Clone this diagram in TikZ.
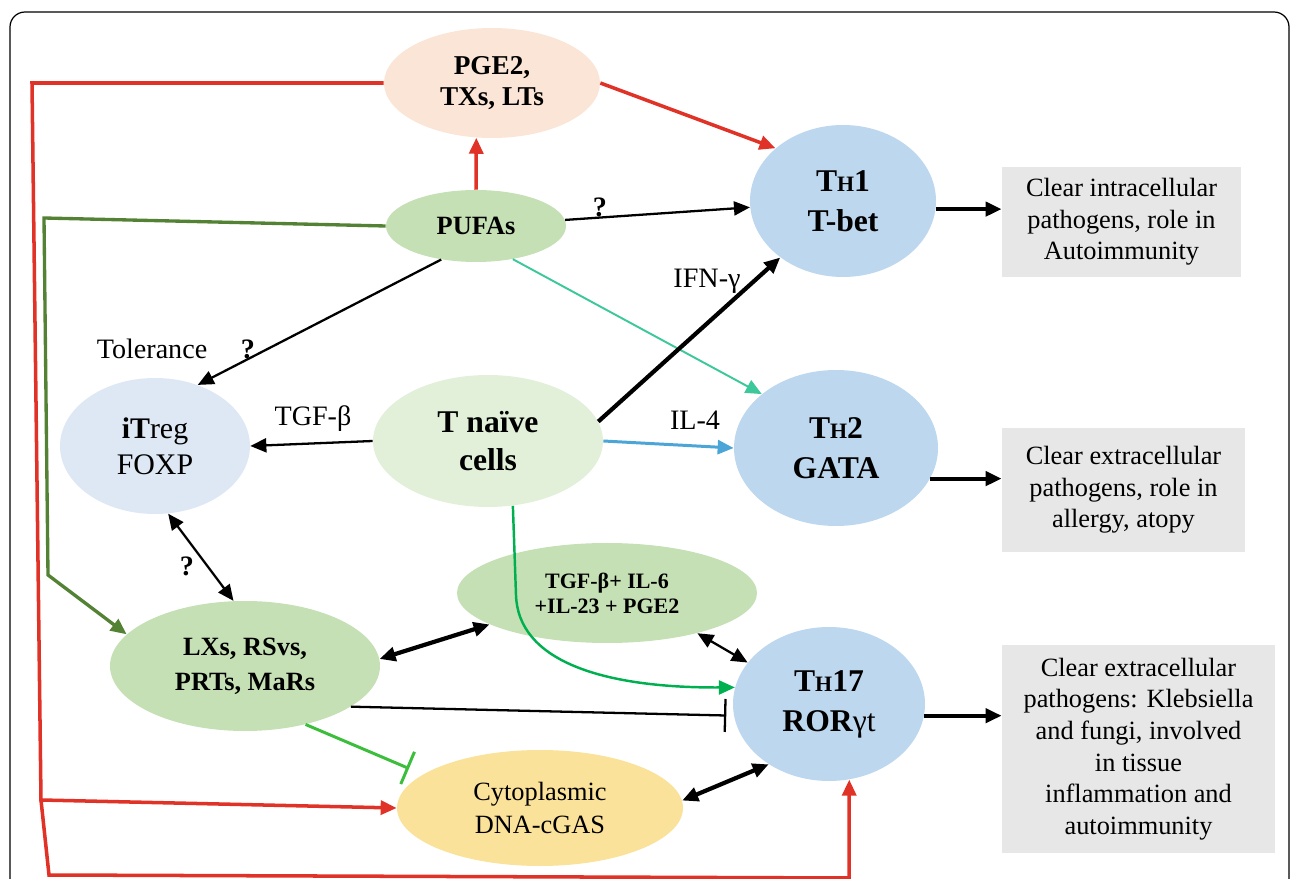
\documentclass[tikz,border=0pt]{standalone}
\usepackage{fontspec}
\setmainfont{Liberation Serif}
\usetikzlibrary{shapes.geometric,arrows.meta}
\definecolor{peach}{RGB}{251,229,214}
\definecolor{leaf}{RGB}{197,224,180}
\definecolor{paleleaf}{RGB}{226,240,217}
\definecolor{sky}{RGB}{189,215,238}
\definecolor{palesky}{RGB}{222,232,244}
\definecolor{sand}{RGB}{251,226,154}
\definecolor{boxgray}{RGB}{231,231,231}
\definecolor{redline}{RGB}{224,50,38}
\definecolor{moss}{RGB}{84,130,53}
\definecolor{mint}{RGB}{60,200,155}
\definecolor{ilblue}{RGB}{75,165,215}
\definecolor{curvegreen}{RGB}{0,176,80}
\definecolor{bargreen}{RGB}{60,190,60}
\newcommand{\hsc}{{\fontsize{12.5}{12.5}\selectfont H}}

\begin{document}
\begin{tikzpicture}[x=0.2mm,y=-0.2mm,
    cell/.style={ellipse, inner sep=0pt, align=center},
    outbox/.style={fill=boxgray, inner sep=0pt, align=center, font=\fontsize{15}{18}\selectfont},
    lbl/.style={font=\fontsize{16}{18}\selectfont},
    qm/.style={font=\bfseries\fontsize{16}{18}\selectfont},
    >={Triangle[length=3.2mm,width=2.8mm]},
    link/.style={->, line width=1.3pt},
    strong/.style={->, line width=2.4pt},
    both/.style={<->, line width=2.4pt},
    redarrow/.style={->, redline, line width=2pt},
    blocker/.style={-{Bar[width=6.6mm]}, line width=1.3pt}]

    \clip (0,0) rectangle (1290,879);
    \draw[line width=0.7pt, rounded corners=3mm] (10,12) rectangle (1289,920);

    % cells and mediators
    \node[cell, fill=peach, minimum width=43.2mm, minimum height=22mm,
          font=\bfseries\fontsize{15.5}{17.6}\selectfont] (pge) at (492,83) {PGE2,\\TXs, LTs};
    \node[cell, fill=leaf, minimum width=36mm, minimum height=14.4mm,
          font=\bfseries\fontsize{15}{17}\selectfont] (pufa) at (476,226) {PUFAs};
    \node[cell, fill=sky, minimum width=37.2mm, minimum height=30.4mm,
          font=\bfseries\fontsize{18}{22.7}\selectfont] (th1) at (843,201) {T\hsc1\\T-bet};
    \node[cell, fill=palesky, minimum width=38mm, minimum height=27.2mm,
          font=\fontsize{17}{20.5}\selectfont] (itreg) at (155,446) {{\bfseries iT}reg\\FOXP};
    \node[cell, fill=paleleaf, minimum width=46mm, minimum height=26.4mm,
          font=\bfseries\fontsize{18}{21.5}\selectfont] (tn) at (488,441) {T naïve\\cells};
    \node[cell, fill=sky, minimum width=40.8mm, minimum height=31.2mm,
          font=\bfseries\fontsize{18}{22.7}\selectfont] (th2) at (836,448) {T\hsc2\\GATA};
    \node[cell, fill=leaf, minimum width=60mm, minimum height=20mm,
          font=\bfseries\fontsize{12.5}{14.2}\selectfont] (tgf) at (607,593) {TGF-β+ IL-6\\+IL-23 + PGE2};
    \node[cell, fill=leaf, minimum width=54mm, minimum height=26mm,
          font=\bfseries\fontsize{15}{19.8}\selectfont] (lxs) at (245,666) {LXs, RSvs,\\PRTs, MaRs};
    \node[cell, fill=sky, minimum width=38.4mm, minimum height=30.8mm,
          font=\fontsize{18}{22.7}\selectfont] (th17) at (829,704) {{\bfseries T\hsc17}\\{\bfseries ROR}γt};
    \node[cell, fill=sand, minimum width=57.2mm, minimum height=23.2mm,
          font=\fontsize{15}{18.7}\selectfont] (cgas) at (540,808) {Cytoplasmic\\DNA-cGAS};

    % outcomes
    \node[outbox, minimum width=47.8mm, minimum height=22mm] (box1) at (1121.5,222)
        {Clear intracellular\\pathogens, role in\\Autoimmunity};
    \node[outbox, minimum width=48.6mm, minimum height=24.8mm] (box2) at (1123.5,490)
        {Clear extracellular\\pathogens, role in\\allergy, atopy};
    \node[outbox, minimum width=54.6mm, minimum height=41.6mm] (box3) at (1138.5,749)
        {Clear extracellular\\pathogens: Klebsiella\\and fungi, involved\\in tissue\\inflammation and\\autoimmunity};

    % corners of the long lines
    \coordinate (rtop) at (32,83);
    \coordinate (rmid) at (41,800);
    \coordinate (rbot) at (49,875);
    \coordinate (rcorner) at (849,878);
    \coordinate (gtop) at (44,218);
    \coordinate (gbot) at (48,575);
    \coordinate (bend) at (516,595);

    \draw[redarrow] (pufa.north) -- (pge.-106);
    \draw[redarrow] (pge.east) -- (th1.142);
    \draw[redarrow] (pge.west) -- (rtop) -- (rmid) -- (cgas.west);
    \draw[redarrow] (rmid) -- (rbot) -- (rcorner) -- (th17.-75);
    \draw[->, moss, line width=1.9pt] (pufa.west) -- (gtop) -- (gbot) -- (lxs.165);

    \draw[link] (pufa) -- (th1);
    \draw[link] (pufa.224) -- (itreg.55);
    \draw[->, mint, line width=1.1pt] (pufa.-42) -- (th2.144);
    \draw[strong] (tn.10) -- (th1.222);
    \draw[link] (tn.west) -- (itreg.east);
    \draw[->, ilblue, line width=1.7pt] (tn.east) -- (th2.west);
    \draw[->, curvegreen, line width=1.4pt] (tn.-69) -- (bend)
        .. controls (518,660) and (600,688) .. (th17.170);

    \draw[<->, line width=1.3pt] (itreg.-79) -- (lxs.100);
    \draw[both] (lxs.3) -- (tgf.195);
    \draw[<->, line width=1.3pt] (tgf.-24) -- (th17.153);
    \draw[blocker, shorten >=1.5mm] (lxs.-21) -- (th17.187);
    \draw[-{Bar[width=7mm]}, bargreen, line width=1.7pt, shorten >=3mm] (lxs.-44) -- (cgas.164);
    \draw[both] (cgas.3) -- (th17.225);

    \draw[strong] (th1.-5) -- (th1.-5 -| box1.west);
    \draw[strong] (th2.-18) -- (th2.-18 -| box2.west);
    \draw[strong] (th17.-7) -- (th17.-7 -| box3.west);

    % labels
    \node[lbl] (tol) at (152,349) {Tolerance};
    \node[qm] (q1) at (600,207) {?};
    \node[qm] (q2) at (248,349) {?};
    \node[qm] (q3) at (187,566) {?};
    \node[lbl] (tgfb) at (313,419) {TGF-β};
    \node[lbl] (il4) at (695,420) {IL-4};
    \node[lbl] (ifn) at (707,281) {IFN-γ};
\end{tikzpicture}
\end{document}
